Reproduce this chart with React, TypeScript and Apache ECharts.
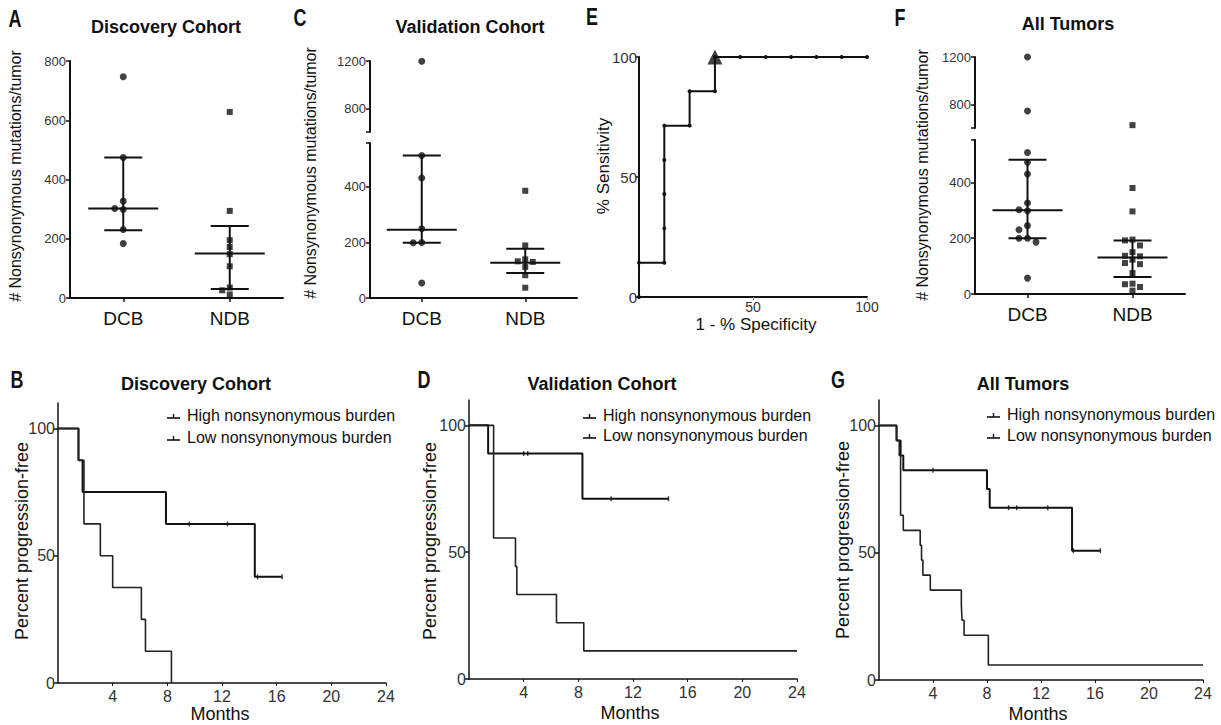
import React, { useEffect, useRef } from "react";
import * as echarts from "echarts";

// ---------------- data ----------------
const groups = ["DCB", "NDB"];

// A – Discovery cohort (# nonsynonymous mutations / tumor)
const discoveryDCB = [747, 474, 327, 302, 299, 231, 184];
const discoveryNDB = [628, 294, 195, 172, 148, 107, 35, 26, 12];
// [median, Q1, Q3]
const discoveryDCBStats = [302, 229, 474];
const discoveryNDBStats = [150, 30, 243];

// C – Validation cohort
const validationDCB = [1198, 513, 432, 249, 200, 199, 54];
const validationNDB = [386, 189, 139, 132, 130, 112, 82, 37];
const validationDCBStats = [246, 199, 513];
const validationNDBStats = [127, 90, 177];

// F – All tumors
const allDCB = [1200, 743, 507, 472, 430, 326, 302, 298, 245, 230, 200, 200, 186, 57];
const allNDB = [624, 380, 296, 195, 192, 174, 150, 137, 135, 123, 111, 107, 75, 37, 35, 25, 12];
const allDCBStats = [300, 200, 481];
const allNDBStats = [131, 61, 192];

// E – ROC curve (1 - % specificity, % sensitivity)
const rocFPR = [0, 0, 11.1, 11.1, 11.1, 11.1, 11.1, 22.2, 22.2, 33.3, 33.3, 44.4, 55.6, 66.7, 77.8, 88.9, 100];
const rocTPR = [0, 14.3, 14.3, 28.6, 42.9, 57.1, 71.4, 71.4, 85.7, 85.7, 100, 100, 100, 100, 100, 100, 100];
const rocCutoff = [33.3, 100];

// Kaplan–Meier curves [month, percent progression-free]
const kmHighB = [[0, 100], [1.5, 87.5], [1.8, 75], [7.9, 62.5], [14.4, 41.7], [16.4, 41.7]];
const kmLowB = [[0, 100], [1.5, 87.5], [1.9, 62.5], [3.1, 50], [4.0, 37.5], [6.1, 25], [6.4, 12.5], [8.3, 0]];
const censorHighB = [[9.6, 62.5], [12.4, 62.5], [14.6, 41.7], [16.4, 41.7]];

const kmHighD = [[0, 100], [1.4, 88.9], [8.3, 71.1], [14.6, 71.1]];
const kmLowD = [[0, 100], [1.8, 55.6], [3.4, 44.4], [3.5, 33.3], [6.4, 22.2], [8.4, 11.1], [24, 11.1]];
const censorHighD = [[4.0, 88.9], [4.3, 88.9], [10.4, 71.1], [14.6, 71.1]];

const kmHighG = [[0, 100], [1.3, 94.1], [1.6, 88.2], [1.8, 82.4], [8.0, 75], [8.2, 67.7], [14.3, 50.8], [16.4, 50.8]];
const kmLowG = [[0, 100], [1.3, 94.1], [1.5, 88.2], [1.6, 64.7], [1.8, 58.8], [3.05, 52.9], [3.15, 47.1], [3.25, 41.2], [3.8, 35.3], [6.1, 29.4], [6.15, 23.5], [6.3, 17.6], [8.1, 5.9], [24, 5.9]];
const censorHighG = [[4.0, 82.4], [9.6, 67.7], [10.2, 67.7], [12.5, 67.7], [14.4, 50.8], [16.4, 50.8]];

const monthTicks = [4, 8, 12, 16, 20, 24];
const pctTicks = [0, 50, 100];
const HIGH = "High nonsynonymous burden";
const LOW = "Low nonsynonymous burden";

// ---------------- layout ----------------
const FONT = "'Liberation Sans', Arial, Helvetica, sans-serif";
const INK = "#111";
const TICKC = "#333";

const gA = { left: 70, top: 61, width: 213, height: 237 };
const gCU = { left: 370, top: 61, width: 207, height: 71 };
const gCL = { left: 370, top: 143, width: 207, height: 155 };
const gE = { left: 639, top: 57, width: 228, height: 240 };
const gFU = { left: 975, top: 57, width: 210, height: 71 };
const gFL = { left: 975, top: 140, width: 210, height: 154 };
const gB = { left: 58, top: 403, width: 328, height: 280 };
const gD = { left: 469, top: 400, width: 328, height: 279 };
const gG = { left: 879, top: 400, width: 324, height: 280 };

const A_MAX = 800;
const C_LMAX = 558;
const F_LMAX = 552;
const UP_MIN = 600;
const UP_MAX = 1200;
const BREAK = 580;
const DOT = 7;

type G = { left: number; top: number; width: number; height: number };

function pxLinear(g: G, min: number, max: number) {
  return (v: number) => g.top + g.height * (1 - (v - min) / (max - min));
}
function pxBroken(lower: G, lmax: number, upper: G) {
  const lo = pxLinear(lower, 0, lmax);
  const up = pxLinear(upper, UP_MIN, UP_MAX);
  return (v: number) => (v > BREAK ? up(v) : lo(v));
}

// simple beeswarm: horizontal pixel offsets so that dots do not overlap
function swarm(values: number[], toPx: (v: number) => number, diam: number) {
  const placed: { x: number; y: number }[] = [];
  const out = values.map(() => 0);
  const order = values.map((_, i) => i).sort((a, b) => values[b] - values[a]);
  for (const i of order) {
    const y = toPx(values[i]);
    for (let k = 0; k < 40; k++) {
      const step = Math.ceil(k / 2) * (diam + 1);
      const x = k % 2 === 1 ? -step : step;
      if (placed.every((p) => Math.hypot(p.x - x, p.y - y) >= diam)) {
        out[i] = x;
        placed.push({ x, y });
        break;
      }
    }
  }
  return out;
}

function dotSeries(
  values: number[],
  gi: number,
  symbol: string,
  size: number,
  lowerAxis: number,
  upperAxis: number | null,
  toPx: (v: number) => number,
  gridWidth: number
) {
  const offs = swarm(values, toPx, size + 0.5);
  const unit = gridWidth / 2;
  const pts = values.map((v, i) => ({ v, x: gi + offs[i] / unit }));
  const mk = (axis: number, list: { v: number; x: number }[]) => ({
    type: "scatter",
    xAxisIndex: axis,
    yAxisIndex: axis,
    symbol,
    symbolSize: size,
    itemStyle: { color: INK },
    data: list.map((p) => [p.x, p.v]),
    z: 3,
  });
  const res: any[] = [];
  if (upperAxis === null) {
    res.push(mk(lowerAxis, pts));
  } else {
    res.push(mk(lowerAxis, pts.filter((p) => p.v <= BREAK)));
    res.push(mk(upperAxis, pts.filter((p) => p.v > BREAK)));
  }
  return res;
}

function statsSeries(axis: number, dcb: number[], ndb: number[]) {
  return {
    type: "custom",
    xAxisIndex: axis,
    yAxisIndex: axis,
    z: 4,
    encode: { x: 0, y: [1, 2, 3] },
    data: [
      [0, dcb[0], dcb[1], dcb[2]],
      [1, ndb[0], ndb[1], ndb[2]],
    ],
    renderItem: (_p: any, api: any) => {
      const x = api.value(0);
      const pm = api.coord([x, api.value(1)]);
      const p1 = api.coord([x, api.value(2)]);
      const p3 = api.coord([x, api.value(3)]);
      const st = { stroke: INK, lineWidth: 2 };
      const hw = 35;
      const cw = 19;
      return {
        type: "group",
        children: [
          { type: "line", shape: { x1: pm[0] - hw, y1: pm[1], x2: pm[0] + hw, y2: pm[1] }, style: st },
          { type: "line", shape: { x1: p1[0], y1: p1[1], x2: p3[0], y2: p3[1] }, style: st },
          { type: "line", shape: { x1: p1[0] - cw, y1: p1[1], x2: p1[0] + cw, y2: p1[1] }, style: st },
          { type: "line", shape: { x1: p3[0] - cw, y1: p3[1], x2: p3[0] + cw, y2: p3[1] }, style: st },
        ],
      };
    },
  };
}

function dotX(gridIndex: number, visible: boolean) {
  return {
    type: "value",
    gridIndex,
    min: -0.5,
    max: 1.5,
    show: visible,
    axisLine: { show: true, onZero: false, lineStyle: { color: INK, width: 2 } },
    axisTick: { show: true, length: 4, customValues: [0, 1], lineStyle: { color: INK, width: 1.5 } },
    axisLabel: {
      customValues: [0, 1],
      formatter: (v: number) => groups[Math.round(v)],
      fontSize: 19,
      color: INK,
      fontFamily: FONT,
      margin: 11,
    },
    splitLine: { show: false },
  };
}

function valY(
  gridIndex: number,
  min: number,
  max: number,
  ticks: number[],
  labels: number[],
  fontSize: number,
  lw: number,
  margin: number
) {
  return {
    type: "value",
    gridIndex,
    min,
    max,
    axisLine: { show: true, onZero: false, lineStyle: { color: INK, width: lw } },
    axisTick: { show: true, length: 4, customValues: ticks, lineStyle: { color: INK, width: 1.5 } },
    axisLabel: {
      customValues: labels,
      formatter: (v: number) => String(v),
      fontSize,
      color: TICKC,
      fontFamily: FONT,
      margin,
    },
    splitLine: { show: false },
  };
}

function kmX(gridIndex: number) {
  return {
    type: "value",
    gridIndex,
    min: 0,
    max: 24,
    axisLine: { show: true, onZero: false, lineStyle: { color: INK, width: 1.5 } },
    axisTick: { show: true, length: 3, customValues: monthTicks, lineStyle: { color: INK, width: 1 } },
    axisLabel: { customValues: monthTicks, fontSize: 16, color: TICKC, fontFamily: FONT, margin: 5 },
    splitLine: { show: false },
  };
}

function kmSeries(axis: number, high: number[][], low: number[][], censor: number[][]) {
  return [
    {
      type: "line",
      name: HIGH,
      xAxisIndex: axis,
      yAxisIndex: axis,
      step: "end",
      showSymbol: false,
      symbol: "none",
      color: INK,
      lineStyle: { color: INK, width: 2 },
      data: high,
    },
    {
      type: "line",
      name: LOW,
      xAxisIndex: axis,
      yAxisIndex: axis,
      step: "end",
      showSymbol: false,
      symbol: "none",
      color: INK,
      lineStyle: { color: "#222", width: 1.6 },
      data: low,
    },
    {
      type: "scatter",
      name: "censored",
      xAxisIndex: axis,
      yAxisIndex: axis,
      symbol: "rect",
      symbolSize: [1.4, 5],
      itemStyle: { color: INK },
      data: censor,
    },
  ];
}

function txt(text: string, x: number, y: number, font: string, extra: any = {}, align = "center") {
  return {
    type: "text",
    x,
    y,
    silent: true,
    ...extra,
    style: {
      text,
      font,
      fill: INK,
      align,
      verticalAlign: "middle",
      textAlign: align,
      textVerticalAlign: "middle",
    },
  };
}
const letterFont = `bold 23px ${FONT}`;
const titleFont = `bold 18px ${FONT}`;
const axFont = `17px ${FONT}`;
const kmFont = `18px ${FONT}`;
const legFont = `16px ${FONT}`;
const letter = (t: string, x: number, y: number) => txt(t, x, y, letterFont, { scaleX: 0.78 });
const vtxt = (t: string, x: number, y: number, font: string) => txt(t, x, y, font, { rotation: Math.PI / 2 });

// legend drawn as: short line with a censor tick, then the label
function legendRow(label: string, textX: number, y: number) {
  const x0 = textX - 20;
  return [
    { type: "line", silent: true, shape: { x1: x0, y1: y + 3, x2: x0 + 13, y2: y + 3 }, style: { stroke: INK, lineWidth: 1.6 } },
    { type: "line", silent: true, shape: { x1: x0 + 6.5, y1: y - 1, x2: x0 + 6.5, y2: y + 3 }, style: { stroke: INK, lineWidth: 1.4 } },
    txt(label, textX, y, legFont, {}, "left"),
  ];
}

export default function App() {
  const ref = useRef<HTMLDivElement>(null);

  useEffect(() => {
    if (!ref.current) return;
    const chart = echarts.init(ref.current, undefined, { renderer: "svg" });

    const toA = pxLinear(gA, 0, A_MAX);
    const toC = pxBroken(gCL, C_LMAX, gCU);
    const toF = pxBroken(gFL, F_LMAX, gFU);

    const option: any = {
      animation: false,
      backgroundColor: "#fff",
      textStyle: { fontFamily: FONT },
      grid: [gA, gCU, gCL, gE, gFU, gFL, gB, gD, gG].map((g) => ({ ...g, containLabel: false })),
      xAxis: [
        dotX(0, true),
        dotX(1, false),
        dotX(2, true),
        {
          type: "value",
          gridIndex: 3,
          min: 0,
          max: 100,
          axisLine: { show: true, onZero: false, lineStyle: { color: INK, width: 2 } },
          axisTick: { show: true, length: 3, customValues: [50, 100], lineStyle: { color: "#999", width: 1 } },
          axisLabel: { customValues: [50, 100], fontSize: 14, color: TICKC, fontFamily: FONT, margin: 3 },
          splitLine: { show: false },
        },
        dotX(4, false),
        dotX(5, true),
        kmX(6),
        kmX(7),
        kmX(8),
      ],
      yAxis: [
        valY(0, 0, A_MAX, [0, 200, 400, 600, 800], [0, 200, 400, 600, 800], 13, 2, 4),
        valY(1, UP_MIN, UP_MAX, [600, 800, 1200], [800, 1200], 13, 2, 4),
        valY(2, 0, C_LMAX, [0, 200, 400, C_LMAX], [0, 200, 400], 13, 2, 4),
        valY(3, 0, 100, pctTicks, pctTicks, 15, 2, 2),
        valY(4, UP_MIN, UP_MAX, [600, 800, 1200], [800, 1200], 13, 2, 4),
        valY(5, 0, F_LMAX, [0, 200, 400, F_LMAX], [0, 200, 400], 13, 2, 4),
        valY(6, 0, 110, pctTicks, pctTicks, 16, 1.5, 3),
        valY(7, 0, 110, pctTicks, pctTicks, 16, 1.5, 3),
        valY(8, 0, 110, pctTicks, pctTicks, 16, 1.5, 3),
      ],
      series: [
        // A
        ...dotSeries(discoveryDCB, 0, "circle", DOT, 0, null, toA, gA.width),
        ...dotSeries(discoveryNDB, 1, "rect", DOT - 1, 0, null, toA, gA.width),
        statsSeries(0, discoveryDCBStats, discoveryNDBStats),
        // C
        ...dotSeries(validationDCB, 0, "circle", DOT, 2, 1, toC, gCL.width),
        ...dotSeries(validationNDB, 1, "rect", DOT - 1, 2, 1, toC, gCL.width),
        statsSeries(2, validationDCBStats, validationNDBStats),
        // E
        {
          type: "line",
          xAxisIndex: 3,
          yAxisIndex: 3,
          symbol: "circle",
          symbolSize: 4,
          showSymbol: true,
          color: INK,
          lineStyle: { color: INK, width: 2 },
          itemStyle: { color: INK },
          data: rocFPR.map((x, i) => [x, rocTPR[i]]),
        },
        {
          type: "scatter",
          xAxisIndex: 3,
          yAxisIndex: 3,
          symbol: "triangle",
          symbolSize: 15,
          itemStyle: { color: INK },
          data: [rocCutoff],
          z: 5,
        },
        // F
        ...dotSeries(allDCB, 0, "circle", DOT, 5, 4, toF, gFL.width),
        ...dotSeries(allNDB, 1, "rect", DOT - 1, 5, 4, toF, gFL.width),
        statsSeries(5, allDCBStats, allNDBStats),
        // KM
        ...kmSeries(6, kmHighB, kmLowB, censorHighB),
        ...kmSeries(7, kmHighD, kmLowD, censorHighD),
        ...kmSeries(8, kmHighG, kmLowG, censorHighG),
      ],
      graphic: [
        letter("A", 15, 19),
        letter("C", 300, 18),
        letter("E", 592, 17),
        letter("F", 900, 18),
        letter("B", 17, 380),
        letter("D", 424, 380),
        letter("G", 838, 380),
        txt("Discovery Cohort", 166, 27, titleFont),
        txt("Validation Cohort", 470, 27, titleFont),
        txt("All Tumors", 1068, 24, titleFont),
        txt("Discovery Cohort", 196, 384, titleFont),
        txt("Validation Cohort", 602, 384, titleFont),
        txt("All Tumors", 1023, 384, titleFont),
        vtxt("# Nonsynonymous mutations/tumor", 15, 176, `16px ${FONT}`),
        vtxt("# Nonsynonymous mutations/tumor", 310, 173, `16px ${FONT}`),
        vtxt("# Nonsynonymous mutations/tumor", 922, 175, `16px ${FONT}`),
        vtxt("% Sensitivity", 603, 166, axFont),
        txt("1 - % Specificity", 756, 324, axFont),
        vtxt("Percent progression-free", 22, 541, kmFont),
        vtxt("Percent progression-free", 430, 541, kmFont),
        vtxt("Percent progression-free", 843, 540, kmFont),
        txt("Months", 220, 714, kmFont),
        txt("Months", 630, 713, kmFont),
        txt("Months", 1038, 714, kmFont),
        ...legendRow(HIGH, 187, 415),
        ...legendRow(LOW, 187, 437),
        ...legendRow(HIGH, 603, 415),
        ...legendRow(LOW, 603, 435),
        ...legendRow(HIGH, 1007, 414),
        ...legendRow(LOW, 1007, 435),
      ],
    };

    chart.setOption(option);
    return () => chart.dispose();
  }, []);

  return (
    <div
      ref={ref}
      style={{ position: "absolute", left: 0, top: 0, width: 1221, height: 725, background: "#fff" }}
    />
  );
}
